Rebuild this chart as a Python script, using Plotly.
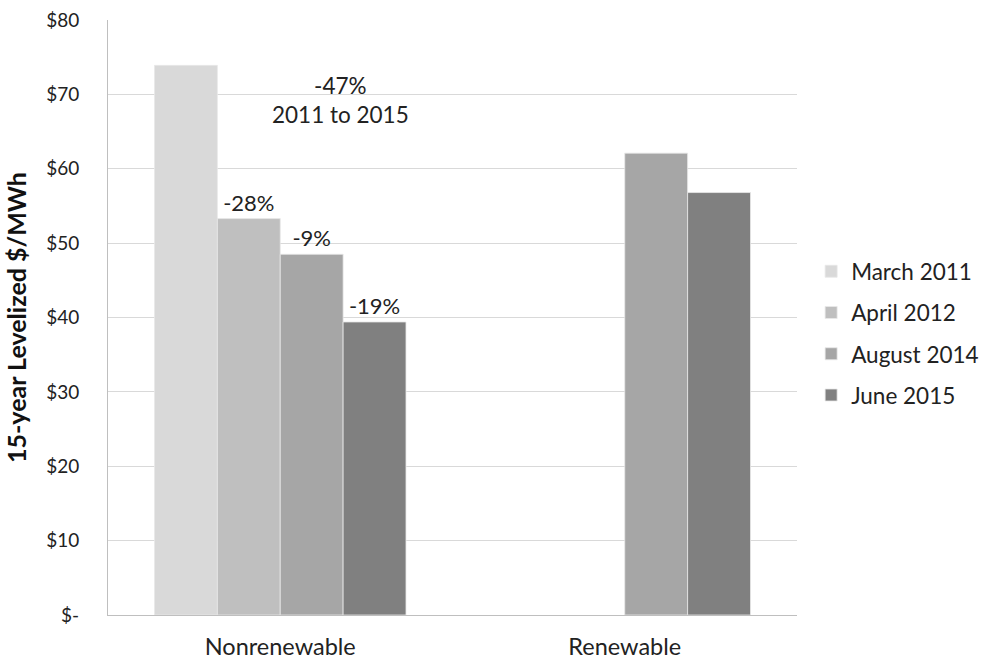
import plotly.graph_objects as go

categories = ["Nonrenewable", "Renewable"]
series_names = ["March 2011", "April 2012", "August 2014", "June 2015"]
march_2011 = [73.9, None]
april_2012 = [53.3, None]
august_2014 = [48.5, 62.1]
june_2015 = [39.4, 56.8]
change_labels = {
    "April 2012": ["-28%", ""],
    "August 2014": ["-9%", ""],
    "June 2015": ["-19%", ""],
}
colors = ["#d9d9d9", "#bfbfbf", "#a6a6a6", "#808080"]
y_ticks = [0, 10, 20, 30, 40, 50, 60, 70, 80]
y_tick_text = ["$-", "$10", "$20", "$30", "$40", "$50", "$60", "$70", "$80"]

FONT = "Lato, 'Open Sans', sans-serif"

fig = go.Figure()
for name, vals, col in zip(series_names,
                           [march_2011, april_2012, august_2014, june_2015],
                           colors):
    fig.add_trace(go.Bar(
        name=name, x=categories, y=vals,
        marker=dict(color=col, line=dict(color="#e8e8e8", width=0.8)),
        text=change_labels.get(name),
        textposition="outside",
        textfont=dict(size=22, color="#222", family=FONT),
        cliponaxis=False,
        constraintext="none",
        legendgroup=name,
    ))

fig.add_annotation(
    x=0.338, xref="paper", y=69.3, yref="y",
    text="-47%<br>2011 to 2015", showarrow=False,
    font=dict(size=22.5, color="#222", family=FONT),
    align="center",
)

fig.update_layout(
    width=982, height=660,
    margin=dict(l=108, r=185, t=20, b=45, autoexpand=False),
    paper_bgcolor="white", plot_bgcolor="white",
    barmode="group", bargap=0.27, bargroupgap=0,
    font=dict(family=FONT, color="#222"),
    showlegend=True,
    legend=dict(
        xref="container", yref="container",
        x=0.826, xanchor="left", y=0.621, yanchor="top",
        font=dict(size=22.5, color="#222", family=FONT),
        traceorder="grouped", tracegroupgap=9,
        itemwidth=30,
    ),
    xaxis=dict(
        showline=True, linecolor="#bfbfbf", linewidth=1,
        tickfont=dict(size=23.5, color="#222", family=FONT),
        ticks="", ticklabelstandoff=11, automargin=False,
    ),
    yaxis=dict(
        range=[0, 80], tickvals=y_ticks, ticktext=y_tick_text,
        showgrid=True, gridcolor="#d9d9d9", gridwidth=1,
        showline=True, linecolor="#bfbfbf", linewidth=1,
        zeroline=False, automargin=False,
        tickfont=dict(size=19, color="#222", family=FONT),
        ticks="", ticklabelstandoff=24,
        title=dict(text="<b>15-year Levelized $/MWh</b>",
                   font=dict(size=25, color="#111", family=FONT),
                   standoff=12),
    ),
)

fig.write_html("out.html")
